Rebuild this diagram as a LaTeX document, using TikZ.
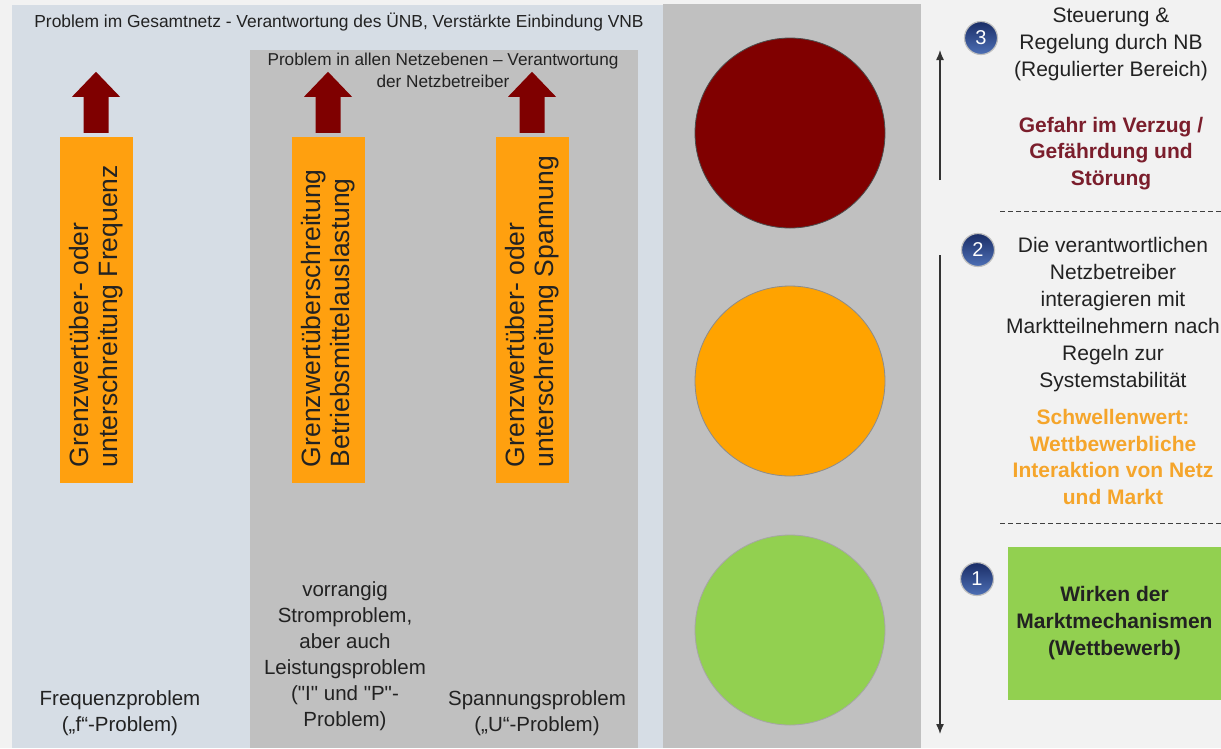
\documentclass[tikz,border=0pt]{standalone}
\usepackage{fontspec}
\setmainfont{Liberation Sans}[Ligatures=TeXOff]
\usetikzlibrary{positioning,calc,arrows.meta}

\definecolor{seite}{HTML}{F2F2F2}
\definecolor{netzblau}{HTML}{D6DDE5}
\definecolor{netzgrau}{HTML}{C0C0C0}
\definecolor{balkenorange}{HTML}{FFA00F}
\definecolor{pfeilrot}{HTML}{7F0000}
\definecolor{ampelrot}{HTML}{800000}
\definecolor{ampelorange}{HTML}{FFA300}
\definecolor{ampelgruen}{HTML}{92D050}
\definecolor{textrot}{HTML}{7B1E2C}
\definecolor{textorange}{HTML}{F5A52B}
\definecolor{stufenoben}{HTML}{1A2D66}
\definecolor{stufenunten}{HTML}{4D6FB5}
\definecolor{schrift}{HTML}{222222}

\tikzset{
  every node/.style={text=schrift},
  balken/.style={fill=balkenorange, minimum width=73pt, minimum height=346pt, inner sep=0pt},
  balkentext/.style={rotate=90, anchor=west, align=left, inner sep=0pt,
    font=\fontsize{26.5}{29}\selectfont},
  ampel/.style={circle, draw=black!70, line width=0.8pt, minimum size=190pt, inner sep=0pt},
  stufe/.style={circle, top color=stufenoben, bottom color=stufenunten, draw=white!75!black,
    line width=1.2pt, minimum size=33pt, inner sep=0pt, text=white,
    font=\fontsize{20}{20}\selectfont},
  rechts/.style={align=center, font=\fontsize{21}{27}\selectfont},
  unten/.style={align=center, font=\fontsize{20.5}{26}\selectfont},
  trenner/.style={draw=black!75, dash pattern=on 5pt off 3pt, line width=0.8pt},
  pegel/.style={draw=black!80, line width=1.3pt, -{Latex[length=10pt,width=8pt]}}
}

\begin{document}
\begin{tikzpicture}[x=1pt,y=-1pt]
\useasboundingbox (0,0) rectangle (1221,748);
\fill[seite] (0,0) rectangle (1221,748);

% Felder
\fill[netzblau] (12,5) rectangle (663,748);
\fill[netzgrau] (250,50) rectangle (638,748);
\fill[netzgrau] (663,4) rectangle (921,748);

\node[font=\fontsize{17.4}{21}\selectfont] (gesamt) at (339,22)
  {Problem im Gesamtnetz - Verantwortung des ÜNB, Verstärkte Einbindung VNB};
\node[align=center, font=\fontsize{17.2}{21.5}\selectfont] (netzebenen) at (443,70.5)
  {Problem in allen Netzebenen – Verantwortung\\der Netzbetreiber};

\node[balken] (frequenz) at (96,310) {};
\node[balken] (strom) at (328,310) {};
\node[balken] (spannung) at (532,310) {};

\node[balkentext] (frequenztext) at ($(frequenz.south)+(0,-16)$)
  {Grenzwertüber- oder\\unterschreitung Frequenz};
\node[balkentext] (stromtext) at ($(strom.south)+(0,-16)$)
  {Grenzwertüberschreitung\\Betriebsmittelauslastung};
\node[balkentext] (spannungtext) at ($(spannung.south)+(0,-16)$)
  {Grenzwertüber- oder\\unterschreitung Spannung};

\foreach \b in {frequenz,strom,spannung}
  \fill[pfeilrot] ($(\b.north)+(-12.5,-4)$) -- ++(0,-36) -- ++(-11.5,0) -- ++(24,-25)
    -- ++(24,25) -- ++(-11.5,0) -- ++(0,36) -- cycle;

\node[unten] (frequenzproblem) at (120,713) {Frequenzproblem\\(„f“-Problem)};
\node[unten] (stromproblem) at (345,656.5)
  {vorrangig\\Stromproblem,\\aber auch\\Leistungsproblem\\("I" und "P"-\\Problem)};
\node[unten] (spannungsproblem) at (537,713) {Spannungsproblem\\(„U“-Problem)};

% Ampel
\node[ampel, fill=ampelrot] (rot) at (790,133) {};
\node[ampel, fill=ampelorange, draw=black!45] (gelb) at (790,381) {};
\node[ampel, fill=ampelgruen, draw=black!35] (gruen) at (790,630) {};

% Stufen rechts
\coordinate (hochstart) at (940,180);
\coordinate (hochende) at (940,50);
\draw[pegel] (hochstart) -- (hochende);
\coordinate (runterstart) at (940,255);
\coordinate (runterende) at (940,734);
\draw[pegel] (runterstart) -- (runterende);

\node[stufe] (drei) at (981,38) {3};
\node[stufe] (zwei) at (978,250) {2};
\node[stufe] (eins) at (977,579) {1};

\node[rechts] (steuerung) at (1111,44.5)
  {Steuerung \&\\Regelung durch NB\\(Regulierter Bereich)};
\node[rechts, text=textrot, font=\fontsize{21}{26.5}\selectfont\bfseries] (gefahr) at (1111,153.5)
  {Gefahr im Verzug /\\Gefährdung und\\Störung};
\draw[trenner] (1000,211) -- (1221,211);

\node[rechts] (netzbetreiber) at (1113,314.5)
  {Die verantwortlichen\\Netzbetreiber\\interagieren mit\\Marktteilnehmern nach\\Regeln zur\\Systemstabilität};
\node[rechts, text=textorange, font=\fontsize{21}{26.7}\selectfont\bfseries] (schwelle) at (1113,457)
  {Schwellenwert:\\Wettbewerbliche\\Interaktion von Netz\\und Markt};
\draw[trenner] (1000,523) -- (1221,523);

\node[fill=ampelgruen, minimum width=213pt, minimum height=153pt, inner sep=0pt,
  align=center, font=\fontsize{21}{27}\selectfont\bfseries] (markt) at (1114.5,623.5)
  {Wirken der\\Marktmechanismen\\(Wettbewerb)};
\end{tikzpicture}
\end{document}
